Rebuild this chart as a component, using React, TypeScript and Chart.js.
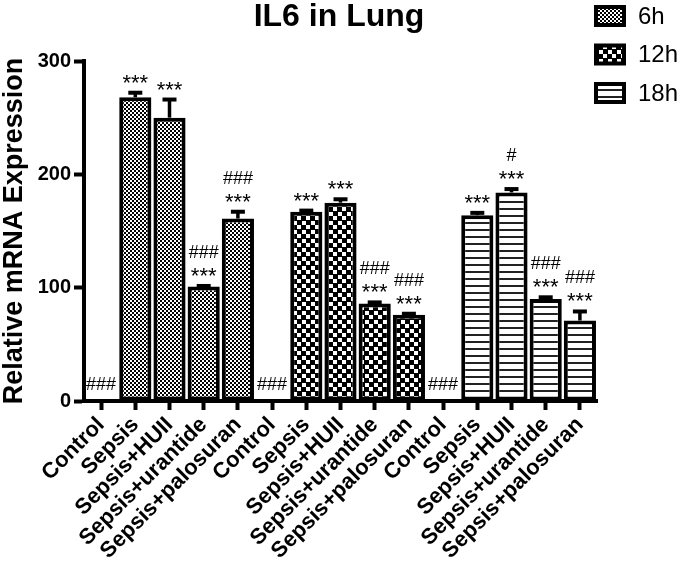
import React, { useEffect, useRef } from "react";
import { Chart, registerables } from "chart.js";

Chart.register(...registerables);

// ---- data ----
const groupLabels = ["Control", "Sepsis", "Sepsis+HUII", "Sepsis+urantide", "Sepsis+palosuran"];
const seriesNames = ["6h", "12h", "18h"];
const chartTitle = "IL6 in Lung";

const sixH = [1, 268, 250, 101, 161];
const sixHErr = [0, 4, 16, 0.5, 6];
const twelveH = [1, 167, 175, 86, 76];
const twelveHErr = [0, 1, 3, 1, 1];
const eighteenH = [1, 164, 184, 90, 71];
const eighteenHErr = [0, 2, 3, 1.5, 8];

const sixHStars = ["", "***", "***", "***", "***"];
const sixHHash = ["###", "", "", "###", "###"];
const twelveHStars = ["", "***", "***", "***", "***"];
const twelveHHash = ["###", "", "", "###", "###"];
const eighteenHStars = ["", "***", "***", "***", "***"];
const eighteenHHash = ["###", "", "#", "###", "###"];

const yTicks = [0, 100, 200, 300];

const FONT = "'Liberation Sans', Arial, Helvetica, sans-serif";

function makePattern(kind: string): CanvasPattern | string {
  const c = document.createElement("canvas");
  const ctx = c.getContext("2d");
  if (!ctx) return "#888";
  if (kind === "fine") {
    c.width = 4; c.height = 4;
    ctx.fillStyle = "#fff"; ctx.fillRect(0, 0, 4, 4);
    ctx.fillStyle = "#000";
    ctx.fillRect(0, 0, 2, 2); ctx.fillRect(2, 2, 2, 2);
  } else if (kind === "coarse") {
    c.width = 9; c.height = 9;
    ctx.fillStyle = "#000"; ctx.fillRect(0, 0, 9, 9);
    ctx.fillStyle = "#fff";
    ctx.fillRect(0, 0, 4, 4); ctx.fillRect(5, 5, 4, 4);
  } else {
    c.width = 4; c.height = 7;
    ctx.fillStyle = "#fff"; ctx.fillRect(0, 0, 4, 7);
    ctx.fillStyle = "#222"; ctx.fillRect(0, 5, 4, 2);
  }
  const p = ctx.createPattern(c, "repeat");
  return p || "#888";
}

function placeGroup(values: number[], g: number): (number | null)[] {
  const out: (number | null)[] = [];
  for (let k = 0; k < 3; k++) {
    for (let i = 0; i < values.length; i++) out.push(k === g ? values[i] : null);
  }
  return out;
}

export default function App() {
  const ref = useRef<HTMLCanvasElement | null>(null);

  useEffect(() => {
    if (!ref.current) return;
    const patterns = [makePattern("fine"), makePattern("coarse"), makePattern("lines")];
    const values = [sixH, twelveH, eighteenH];
    const errs = [sixHErr, twelveHErr, eighteenHErr];
    const stars = [sixHStars, twelveHStars, eighteenHStars];
    const hashes = [sixHHash, twelveHHash, eighteenHHash];
    const labels = [...groupLabels, ...groupLabels, ...groupLabels];

    const extras = {
      id: "extras",
      afterDatasetsDraw(chart: any) {
        const ctx = chart.ctx;
        const y = chart.scales.y;
        ctx.save();
        for (let d = 0; d < 3; d++) {
          const meta = chart.getDatasetMeta(d);
          const vals = values[d];
          for (let i = 0; i < vals.length; i++) {
            const el = meta.data[d * 5 + i];
            if (!el) continue;
            const x = el.x;
            const v = vals[i];
            const e = errs[d][i];
            const yTop = y.getPixelForValue(v);
            const yErr = y.getPixelForValue(v + e);
            if (e > 0) {
              ctx.strokeStyle = "#000";
              ctx.lineWidth = 3.5;
              ctx.beginPath();
              ctx.moveTo(x, yTop);
              ctx.lineTo(x, yErr);
              ctx.stroke();
              ctx.lineWidth = 4;
              ctx.beginPath();
              ctx.moveTo(x - 7, yErr);
              ctx.lineTo(x + 7, yErr);
              ctx.stroke();
            }
            const top = e > 0 ? yErr - 2 : yTop;
            ctx.fillStyle = "#000";
            ctx.textAlign = "center";
            ctx.textBaseline = "alphabetic";
            const s = stars[d][i];
            const h = hashes[d][i];
            if (s) {
              const base = top - 1;
              ctx.font = `22px ${FONT}`;
              ctx.fillText(s, x, base);
              ctx.font = `18px ${FONT}`;
              if (h) ctx.fillText(h, x, base - 25);
            } else if (h) {
              ctx.font = `18px ${FONT}`;
              ctx.fillText(h, x, top - 10);
            }
          }
        }
        // title
        ctx.fillStyle = "#000";
        ctx.font = `bold 32px ${FONT}`;
        ctx.textAlign = "center";
        ctx.textBaseline = "middle";
        ctx.fillText(chartTitle, 339, 17);
        // legend
        for (let d = 0; d < 3; d++) {
          const bx = 594;
          const by = 5 + d * 38.5;
          ctx.fillStyle = "#000";
          ctx.fillRect(bx, by, 32, 22);
          ctx.fillStyle = patterns[d] as any;
          ctx.fillRect(bx + 4, by + 4, 24, 14);
          ctx.fillStyle = "#000";
          ctx.font = `24px ${FONT}`;
          ctx.textAlign = "left";
          ctx.textBaseline = "middle";
          ctx.fillText(seriesNames[d], 638, by + 12);
        }
        ctx.restore();
      },
    };

    const chart = new Chart(ref.current, {
      type: "bar",
      data: {
        labels,
        datasets: values.map((v, d) => ({
          label: seriesNames[d],
          data: placeGroup(v, d),
          backgroundColor: patterns[d] as any,
          borderColor: "#000",
          borderWidth: 4,
          borderSkipped: false,
          categoryPercentage: 0.94,
          barPercentage: 1,
          skipNull: true,
        })),
      },
      options: {
        responsive: false,
        animation: false,
        layout: { padding: { left: 0, right: 88, top: 61, bottom: 0 } },
        plugins: {
          legend: { display: false },
          tooltip: { enabled: false },
          title: { display: false },
        },
        scales: {
          x: {
            offset: true,
            grid: {
              display: true,
              offset: false,
              drawOnChartArea: false,
              drawTicks: true,
              tickLength: 9,
              tickWidth: 4,
              tickColor: "#000",
            },
            border: { display: true, color: "#000", width: 4 },
            ticks: {
              color: "#000",
              font: { family: FONT, size: 22, weight: "bold" },
              minRotation: 45,
              maxRotation: 45,
              autoSkip: false,
              padding: 2,
            },
            afterFit(scale: any) {
              scale.height = 166;
            },
          },
          y: {
            min: 0,
            max: 300,
            afterBuildTicks(scale: any) {
              scale.ticks = yTicks.map((v) => ({ value: v }));
            },
            grid: {
              display: true,
              drawOnChartArea: false,
              drawTicks: true,
              tickLength: 10,
              tickWidth: 4,
              tickColor: "#000",
            },
            border: { display: true, color: "#000", width: 4 },
            ticks: {
              color: "#000",
              font: { family: FONT, size: 20, weight: "bold" },
              padding: 3,
            },
            title: {
              display: true,
              text: "Relative mRNA Expression",
              color: "#000",
              font: { family: FONT, size: 27, weight: "bold", lineHeight: 1.05 },
              padding: { top: 0, bottom: 0 },
            },
            afterFit(scale: any) {
              scale.width = 84;
            },
          },
        },
      },
      plugins: [extras],
    } as any);

    return () => chart.destroy();
  }, []);

  return (
    <div style={{ position: "absolute", left: 0, top: 0, width: 685, height: 567, background: "#fff" }}>
      <canvas ref={ref} width={685} height={567} style={{ display: "block" }} />
    </div>
  );
}
